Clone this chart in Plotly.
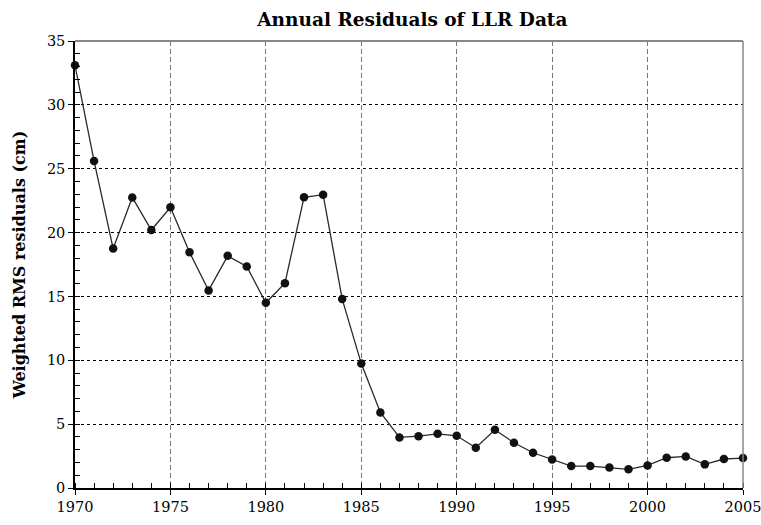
import plotly.graph_objects as go

years = list(range(1970, 2006))
rms_cm = [33.1, 25.6, 18.75, 22.75, 20.2, 21.98, 18.46, 15.47, 18.18, 17.34,
          14.5, 16.04, 22.76, 22.97, 14.79, 9.74, 5.91, 3.96, 4.06, 4.24,
          4.09, 3.15, 4.56, 3.54, 2.76, 2.24, 1.72, 1.72, 1.61, 1.46,
          1.77, 2.37, 2.47, 1.85, 2.27, 2.34]

FONT = "'DejaVu Serif', serif"

fig = go.Figure()
fig.add_trace(go.Scatter(
    x=years, y=rms_cm, mode="lines+markers",
    line=dict(color="#2a2a2a", width=1.3),
    marker=dict(color="#111111", size=8.5),
    showlegend=False, cliponaxis=False,
))
fig.add_trace(go.Scatter(x=[1970], y=[0], xaxis="x2", yaxis="y2",
                         mode="markers", marker=dict(opacity=0),
                         showlegend=False, hoverinfo="skip"))

fig.update_layout(
    width=761, height=525,
    margin=dict(l=75, r=18, t=41, b=37, autoexpand=False),
    plot_bgcolor="white", paper_bgcolor="white",
    font=dict(family=FONT, size=15, color="black"),
    title=dict(text="<b>Annual Residuals of LLR Data</b>", x=0.505, xref="paper",
               xanchor="center", y=0.963, yanchor="middle",
               font=dict(family=FONT, size=18.5, color="black")),
    xaxis=dict(range=[1970, 2005], dtick=5, tick0=1970, ticks="outside", ticklen=5,
               tickcolor="black", tickwidth=1.2, automargin=False,
               ticklabeloverflow="allow",
               showline=True, linecolor="black", linewidth=1.5,
               showgrid=True, gridcolor="#777777", griddash="5px,3px", gridwidth=1,
               zeroline=False,
               minor=dict(dtick=1, tick0=1970, ticks="inside", ticklen=5,
                          tickcolor="black", tickwidth=1.2, showgrid=False),
               tickfont=dict(family=FONT, size=14.5, color="black")),
    yaxis=dict(range=[0, 35], dtick=5, ticks="outside", ticklen=5,
               tickcolor="black", tickwidth=1.2, automargin=False,
               showline=True, linecolor="black", linewidth=1.5,
               showgrid=True, gridcolor="black", griddash="3px,3px", gridwidth=1,
               zeroline=False,
               minor=dict(dtick=1, ticks="inside", ticklen=5,
                          tickcolor="black", tickwidth=1.2, showgrid=False),
               title=dict(text="<b>Weighted RMS residuals (cm)</b>", standoff=17,
                          font=dict(family=FONT, size=16, color="black")),
               tickfont=dict(family=FONT, size=14.5, color="black")),
    xaxis2=dict(overlaying="x", matches="x", range=[1970, 2005], dtick=5, tick0=1970,
                ticks="inside", ticklen=4, tickcolor="black", tickwidth=1.2,
                showticklabels=False, showgrid=False, zeroline=False, showline=False,
                anchor="y", automargin=False),
    yaxis2=dict(overlaying="y", range=[0, 35], dtick=5, ticks="inside", ticklen=4,
                tickcolor="black", tickwidth=1.2, showticklabels=False,
                showgrid=False, zeroline=False, showline=False, anchor="x",
                automargin=False),
    shapes=[
        dict(type="line", xref="paper", yref="paper", x0=0, x1=1, y0=1, y1=1,
             line=dict(color="#888888", width=2)),
        dict(type="line", xref="paper", yref="paper", x0=1, x1=1, y0=0, y1=1,
             line=dict(color="#888888", width=1.5)),
    ],
)

fig.write_html("out.html", config={"displayModeBar": False},
               post_script="document.body.style.margin='0';document.body.style.overflow='hidden';")
